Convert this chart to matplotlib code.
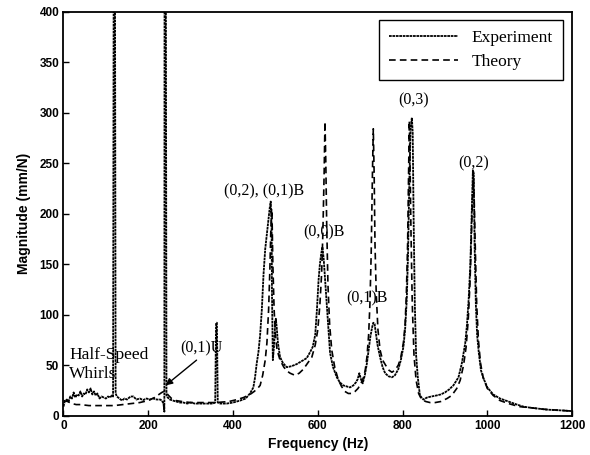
import matplotlib
matplotlib.use("Agg")
import matplotlib.pyplot as plt

# ---------------- data ----------------
exp_freq = [0, 3, 8, 12, 16, 20, 24, 28, 32, 36, 40, 44, 48, 52, 56, 60, 64, 68, 72, 76,
            80, 85, 90, 95, 100, 105, 110, 114, 117, 118.5, 121.5, 123, 126, 132, 138, 144, 150, 158, 165, 172,
            180, 188, 196, 204, 212, 220, 228, 232, 236, 238, 238.5, 241.5, 243, 246, 251, 258, 266, 275, 283, 292,
            300, 310, 322, 335, 345, 352, 358, 360, 362, 364, 370, 385, 400, 417, 430, 440, 448, 452, 456, 460,
            464, 468, 472, 476, 480, 484, 487, 489, 491, 492, 494, 497, 499, 501, 503, 506, 511, 518, 527, 538,
            550, 562, 574, 582, 588, 594, 598, 602, 605, 608, 611, 614, 618, 621, 625, 629, 636, 645, 652, 660,
            668, 676, 684, 690, 694, 698, 702, 706, 711, 716, 720, 724, 728, 731, 734, 737, 741, 747, 753, 759,
            767, 775, 782, 790, 796, 802, 806, 810, 813, 816, 819, 822, 824, 826, 829, 832, 836, 841, 849, 858,
            868, 880, 890, 900, 910, 920, 932, 940, 948, 952, 956, 960, 963, 966, 968, 970, 973, 976, 980, 985,
            991, 1000, 1014, 1030, 1050, 1070, 1085, 1100, 1120, 1140, 1165, 1185, 1200]
exp_mag = [9, 14, 16, 14, 19, 17, 23, 18, 21, 20, 24, 19, 22, 21, 26, 23, 27, 21, 24, 20,
           22, 17, 19, 18, 17, 19, 18, 20, 19, 450, 450, 22, 19, 17, 15, 17, 16, 19, 19, 16,
           17, 15.5, 17, 16, 17, 16, 16, 15, 12, 4, 450, 450, 20, 18, 16, 15, 14, 13, 13, 12,
           13, 12, 12, 12, 12, 12, 13, 92, 92, 13, 12, 12, 13, 15, 17, 22, 28, 38, 52, 63,
           80, 105, 140, 165, 180, 195, 207, 212, 190, 120, 55, 70, 88, 96, 88, 72, 58, 52, 48, 49,
           51, 54, 57, 63, 68, 80, 105, 135, 150, 160, 167, 155, 130, 110, 85, 62, 48, 38, 33, 30,
           29, 28, 30, 33, 36, 42, 36, 32, 40, 52, 65, 78, 87, 92, 91, 82, 70, 58, 48, 42,
           39, 38, 40, 46, 55, 68, 85, 115, 160, 230, 285, 295, 280, 200, 110, 60, 38, 20, 16, 18,
           19, 20, 21, 23, 26, 30, 38, 52, 72, 90, 115, 150, 195, 243, 240, 170, 110, 80, 62, 45,
           37, 28, 21, 17, 14, 11, 9, 8, 7, 6, 5.5, 5, 4.5]

theo_freq = [0, 10, 20, 30, 40, 60, 80, 100, 120, 140, 160, 180, 200, 215, 225, 232, 237, 242, 248, 255,
             265, 280, 300, 330, 360, 390, 410, 425, 440, 450, 458, 464, 470, 476, 480, 484, 487, 489, 491, 492,
             494, 497, 500, 504, 511, 520, 528, 535, 546, 556, 566, 576, 586, 594, 600, 605, 609, 612, 615, 617,
             619, 621, 624, 628, 633, 640, 648, 656, 664, 672, 680, 688, 695, 702, 708, 712, 716, 720, 723, 726,
             729, 731, 733, 735, 738, 742, 747, 753, 760, 768, 775, 782, 790, 796, 802, 806, 809, 812, 814, 816,
             818, 820, 823, 827, 832, 838, 845, 855, 865, 877, 890, 905, 916, 928, 936, 944, 950, 955, 959, 962,
             965, 967, 969, 972, 975, 979, 984, 990, 1000, 1014, 1030, 1050, 1075, 1100, 1130, 1165, 1200]
theo_mag = [15, 14, 12, 11, 11, 10, 10, 10, 10, 11, 12, 13, 15, 18, 21, 23, 24, 23, 20, 17,
            15, 14, 13, 13, 13, 14, 16, 18, 21, 24, 27, 30, 40, 55, 72, 105, 145, 180, 205, 200,
            150, 105, 80, 65, 55, 48, 44, 42, 40, 42, 46, 52, 58, 70, 85, 110, 140, 180, 240, 291,
            250, 190, 130, 90, 65, 48, 36, 29, 24, 22, 22, 24, 27, 32, 38, 45, 58, 80, 110, 160,
            240, 284, 240, 170, 120, 85, 65, 55, 50, 45, 43, 45, 50, 58, 72, 90, 120, 170, 230, 292,
            240, 180, 110, 60, 35, 22, 16, 14, 13, 13, 14, 17, 20, 27, 35, 50, 68, 95, 130, 170,
            215, 240, 215, 160, 110, 75, 52, 38, 27, 20, 15, 12, 9, 8, 6.5, 5.5, 4.5]

x_ticks = [0, 200, 400, 600, 800, 1000, 1200]
y_ticks = [0, 50, 100, 150, 200, 250, 300, 350, 400]

peak_labels = ["(0,2), (0,1)B", "(0,0)B", "(0,1)B", "(0,3)", "(0,2)"]
peak_label_x = [473, 615, 717, 826, 967]
peak_label_y = [222, 181, 116, 312, 250]

# ---------------- figure ----------------
fig = plt.figure(figsize=(5.9, 4.55), dpi=100)
ax = fig.add_axes([0.1076, 0.0864, 0.862, 0.888])

serif = ["Liberation Serif", "DejaVu Serif"]
sans = ["Liberation Sans", "DejaVu Sans"]

ax.plot(exp_freq, exp_mag, color="black", lw=1.3, linestyle=(0, (1.5, 0.4)),
        label="Experiment", zorder=3)
ax.plot(theo_freq, theo_mag, color="black", lw=1.2, linestyle=(0, (4.0, 2.5)),
        label="Theory", zorder=2)

ax.set_xlim(0, 1200)
ax.set_ylim(0, 400)
ax.set_xticks(x_ticks)
ax.set_yticks(y_ticks)
ax.tick_params(direction="in", length=4, width=1, labelsize=8.5, pad=3)
for lab in ax.get_xticklabels() + ax.get_yticklabels():
    lab.set_fontweight("bold")
    lab.set_family(sans)
for s in ax.spines.values():
    s.set_linewidth(1.3)

ax.set_xlabel("Frequency (Hz)", fontsize=10, fontweight="bold", family=sans, labelpad=4)
ax.set_ylabel("Magnitude (mm/N)", fontsize=10, fontweight="bold", family=sans, labelpad=6)

for t, xx, yy in zip(peak_labels, peak_label_x, peak_label_y):
    ax.text(xx, yy, t, ha="center", va="center", fontsize=11.5, family=serif)

ax.text(13, 60, "Half-Speed", ha="left", va="center", fontsize=12.5, family=serif)
ax.text(13, 41, "Whirls", ha="left", va="center", fontsize=12.5, family=serif)
ax.text(325, 67, "(0,1)U", ha="center", va="center", fontsize=11.5, family=serif)
ax.annotate("", xy=(241, 30), xytext=(314, 55),
            arrowprops=dict(arrowstyle="-|>", color="black", lw=1.0,
                            mutation_scale=10, shrinkA=0, shrinkB=0))

leg = ax.legend(loc="upper right", bbox_to_anchor=(0.982, 0.979), borderaxespad=0,
                prop={"family": serif, "size": 12.5},
                handlelength=4.0, handletextpad=0.76, borderpad=0.58,
                labelspacing=0.45, fancybox=False, framealpha=1, edgecolor="black")
leg.get_frame().set_linewidth(1.0)

fig.savefig("out.png", dpi=100)
